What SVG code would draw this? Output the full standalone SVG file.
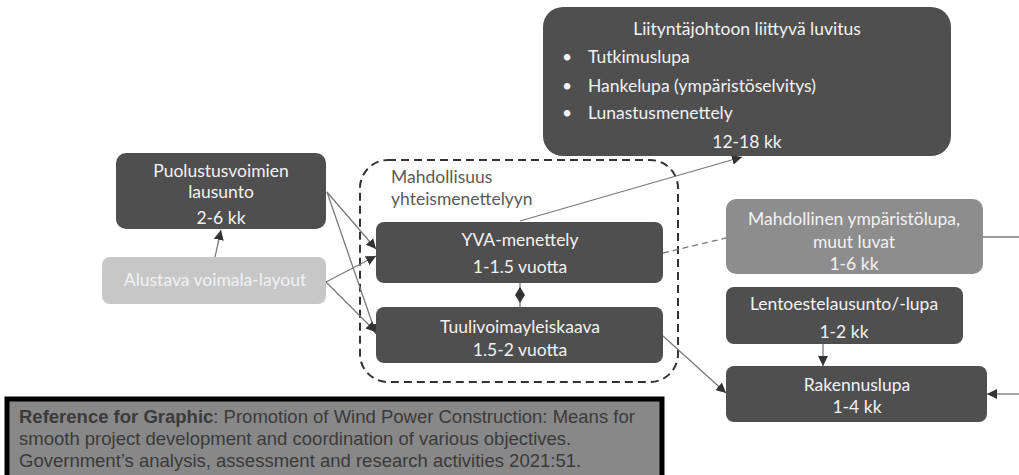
<svg xmlns="http://www.w3.org/2000/svg" width="1019" height="475" viewBox="0 0 1019 475">
<defs>
<style>
.dark{fill:#4f4f4f}
.mid{fill:#8d8d8d}
.light{fill:#c7c7c7}
.t{font-family:Lato,"Open Sans","Liberation Sans",sans-serif;font-size:17.5px;fill:#f2f2f2;text-anchor:middle}
.tl{font-family:Lato,"Open Sans","Liberation Sans",sans-serif;font-size:17.5px;fill:#f2f2f2}
.grp{font-family:Lato,"Open Sans","Liberation Sans",sans-serif;font-size:17.5px;fill:#5a5a5a}
.c{stroke:#7a7a7a;stroke-width:1.3;fill:none}
.ref{font-family:"Liberation Sans",Arial,sans-serif;font-size:18.5px;fill:#3a3a3a}
</style>
<marker id="ah" viewBox="0 0 10 10" refX="10" refY="5" markerWidth="10" markerHeight="10" markerUnits="userSpaceOnUse" orient="auto">
<path d="M0,0 L10,5 L0,10 z" fill="#333"/>
</marker>
</defs>
<rect width="1019" height="475" fill="#ffffff"/>

<g id="group-yhteis">
<rect x="360" y="160" width="318" height="222" rx="28" fill="none" stroke="#333" stroke-width="2" stroke-dasharray="8,5"/>
<text class="grp" x="391" y="183">Mahdollisuus</text>
<text class="grp" x="391" y="205">yhteismenettelyyn</text>
</g>

<g id="connectors">
<line class="c" x1="215" y1="257" x2="221" y2="230" marker-end="url(#ah)"/>
<line class="c" x1="327" y1="192" x2="376" y2="249" marker-end="url(#ah)"/>
<line class="c" x1="327" y1="192" x2="376" y2="334" marker-end="url(#ah)"/>
<line class="c" x1="326" y1="282" x2="376" y2="256" marker-end="url(#ah)"/>
<line class="c" x1="326" y1="282" x2="376" y2="332" marker-end="url(#ah)"/>
<line class="c" x1="520" y1="221" x2="742" y2="157" marker-end="url(#ah)"/>
<line class="c" x1="520" y1="283" x2="520" y2="307"/>
<path d="M520,287 L525,295 L520,303 L515,295 z" fill="#333"/>
<line class="c" x1="663" y1="253" x2="726" y2="238" stroke-dasharray="6,4" stroke="#555" stroke-width="1.6"/>
<line class="c" x1="983" y1="237" x2="1019" y2="237"/>
<line class="c" x1="823" y1="344" x2="823" y2="366" marker-end="url(#ah)"/>
<line class="c" x1="663" y1="336" x2="726" y2="393" marker-end="url(#ah)"/>
<line class="c" x1="1019" y1="394" x2="987" y2="394" marker-end="url(#ah)"/>
</g>

<g id="node-liityntajohto">
<rect class="dark" x="543" y="7" width="408" height="149" rx="20"/>
<text class="t" x="747" y="35">Liityntäjohtoon liittyvä luvitus</text>
<text class="tl" x="562" y="63">•</text>
<text class="tl" x="588" y="63">Tutkimuslupa</text>
<text class="tl" x="562" y="92">•</text>
<text class="tl" x="588" y="92">Hankelupa (ympäristöselvitys)</text>
<text class="tl" x="562" y="119">•</text>
<text class="tl" x="588" y="119">Lunastusmenettely</text>
<text class="t" x="747" y="148">12-18 kk</text>
</g>

<g id="node-puolustus">
<rect class="dark" x="116" y="153" width="210" height="76" rx="10"/>
<text class="t" x="221" y="177">Puolustusvoimien</text>
<text class="t" x="221" y="198">lausunto</text>
<text class="t" x="221" y="224">2-6 kk</text>
</g>

<g id="node-alustava">
<rect class="light" x="102" y="257" width="224" height="47" rx="8"/>
<text class="t" x="215" y="286">Alustava voimala-layout</text>
</g>

<g id="node-yva">
<rect class="dark" x="376" y="222" width="287" height="61" rx="8"/>
<text class="t" x="520" y="246">YVA-menettely</text>
<text class="t" x="520" y="273">1-1.5 vuotta</text>
</g>

<g id="node-tuulivoima">
<rect class="dark" x="376" y="307" width="287" height="56" rx="8"/>
<text class="t" x="520" y="333">Tuulivoimayleiskaava</text>
<text class="t" x="520" y="356">1.5-2 vuotta</text>
</g>

<g id="node-mahdollinen">
<rect class="mid" x="726" y="199" width="257" height="75" rx="10"/>
<text class="t" x="854" y="225">Mahdollinen ympäristölupa,</text>
<text class="t" x="854" y="248">muut luvat</text>
<text class="t" x="854" y="270">1-6 kk</text>
</g>

<g id="node-lento">
<rect class="dark" x="726" y="287" width="237" height="57" rx="8"/>
<text class="t" x="844" y="310">Lentoestelausunto/-lupa</text>
<text class="t" x="844" y="338">1-2 kk</text>
</g>

<g id="node-rakennus">
<rect class="dark" x="726" y="366" width="261" height="56" rx="8"/>
<text class="t" x="857" y="391">Rakennuslupa</text>
<text class="t" x="857" y="413">1-4 kk</text>
</g>

<g id="reference">
<rect x="7" y="399" width="655" height="82" fill="#888888" stroke="#000" stroke-width="5"/>
<text class="ref" x="19" y="423"><tspan font-weight="bold">Reference for Graphic</tspan>: Promotion of Wind Power Construction: Means for</text>
<text class="ref" x="19" y="445">smooth project development and coordination of various objectives.</text>
<text class="ref" x="19" y="467">Government’s analysis, assessment and research activities 2021:51.</text>
</g>
</svg>
